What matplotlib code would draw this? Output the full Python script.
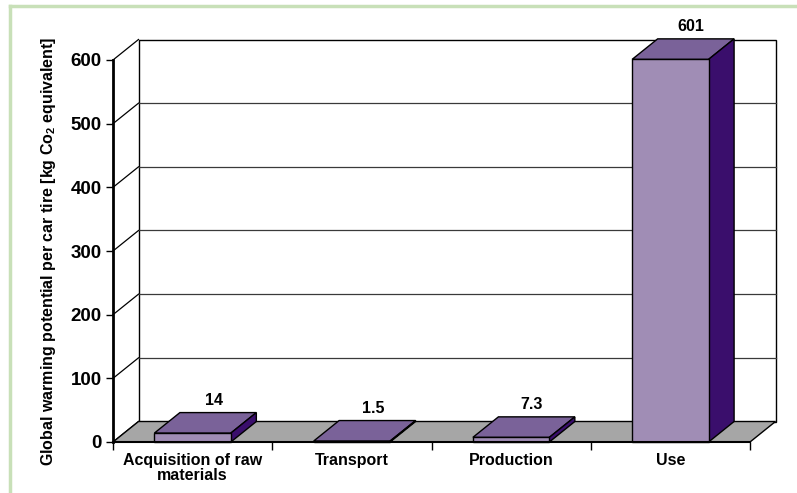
import matplotlib
matplotlib.use("Agg")
import matplotlib.pyplot as plt
from matplotlib.patches import Polygon, Rectangle
from matplotlib.lines import Line2D

# ---- data ----
categories = ["Acquisition of raw\nmaterials", "Transport", "Production", "Use"]
values = [14, 1.5, 7.3, 601]
value_labels = ["14", "1.5", "7.3", "601"]
yticks = [0, 100, 200, 300, 400, 500, 600]

# ---- style ----
plt.rcParams['font.family'] = ['Liberation Sans', 'DejaVu Sans']
plt.rcParams['font.weight'] = 'bold'
plt.rcParams['mathtext.fontset'] = 'custom'
plt.rcParams['mathtext.rm'] = 'Liberation Sans'
plt.rcParams['mathtext.bf'] = 'Liberation Sans:bold'

C_FRONT = '#A08DB5'
C_TOP = '#7A6299'
C_SIDE = '#3A0E6C'
C_FLOOR = '#A6A6A6'
C_GREEN = '#C8E0B8'

W, H = 797, 493
fig = plt.figure(figsize=(W / 100, H / 100), dpi=100)
fig.patch.set_facecolor('white')

# green frame (top and left edges visible only)
fig.lines.append(Line2D([10 / W, 1.0], [(H - 6) / H, (H - 6) / H],
                        transform=fig.transFigure, color=C_GREEN, lw=2.5))
fig.lines.append(Line2D([10 / W, 10 / W], [0.0, (H - 6) / H],
                        transform=fig.transFigure, color=C_GREEN, lw=2.5))

# front plane of the 3D box
x0px, x1px, y0px, y1px = 113, 750, 442, 60
ax = fig.add_axes([x0px / W, (H - y0px) / H, (x1px - x0px) / W, (y0px - y1px) / H])
n = len(categories)
ymax = yticks[-1]
ax.set_xlim(0, n)
ax.set_ylim(0, ymax)
ax.patch.set_visible(False)

# depth offset in data units
px_x = (x1px - x0px) / n
px_y = (y0px - y1px) / ymax
DX = 25.5 / px_x
DY = 20.5 / px_y

# back wall
ax.add_patch(Rectangle((DX, DY), n, ymax, facecolor='white', edgecolor='black',
                       linewidth=1.0, zorder=1, clip_on=False))
# gridlines on back wall and left side diagonals
for t in yticks:
    if 0 < t < ymax:
        ax.plot([DX, n + DX], [t + DY, t + DY], color='#3a3a3a', lw=0.9,
                zorder=1.5, clip_on=False)
    ax.plot([0, DX], [t, t + DY], color='black', lw=0.9, zorder=1.5, clip_on=False)

# floor
ax.add_patch(Polygon([(0, 0), (n, 0), (n + DX, DY), (DX, DY)], closed=True,
                     facecolor=C_FLOOR, edgecolor='black', linewidth=1.0,
                     zorder=2, clip_on=False))

# bars
bw = 0.48
xs = [i + 0.5 for i in range(n)]
ax.bar(xs, values, width=bw, color=C_FRONT, edgecolor='black', linewidth=1.0,
       zorder=4, clip_on=False)
for x, v, lab in zip(xs, values, value_labels):
    a, b = x - bw / 2, x + bw / 2
    ax.add_patch(Polygon([(a, v), (b, v), (b + DX, v + DY), (a + DX, v + DY)],
                         closed=True, facecolor=C_TOP, edgecolor='black',
                         linewidth=1.0, zorder=3, clip_on=False))
    ax.add_patch(Polygon([(b, 0), (b + DX, DY), (b + DX, v + DY), (b, v)],
                         closed=True, facecolor=C_SIDE, edgecolor='black',
                         linewidth=1.0, zorder=3, clip_on=False))
    ax.text(x + DX * 0.82, v + DY + 12 / px_y, lab, ha='center', va='center',
            fontsize=11.5, fontweight='bold', zorder=6, clip_on=False)

# axes spines / ticks
for s in ['top', 'right']:
    ax.spines[s].set_visible(False)
ax.spines['left'].set_linewidth(2.0)
ax.spines['bottom'].set_linewidth(1.5)
ax.spines['left'].set_zorder(5)
ax.spines['bottom'].set_zorder(5)

ax.set_yticks(yticks)
ax.set_yticklabels([str(t) for t in yticks], fontsize=13.5, fontweight='bold')
ax.tick_params(axis='y', direction='out', length=5, width=1.0, pad=3)

ax.set_xticks(range(n + 1))
ax.set_xticklabels([''] * (n + 1))
ax.tick_params(axis='x', which='major', direction='out', length=6, width=1.0)
ax.set_xticks(xs, minor=True)
ax.set_xticklabels(categories, minor=True, fontsize=11.5, fontweight='bold',
                   linespacing=1.0)
ax.tick_params(axis='x', which='minor', length=0, pad=8)

ax.set_ylabel(r"Global warming potential per car tire [kg Co$_\mathbf{2}$ equivalent]",
              fontsize=11.5, fontweight='bold', va='center')
ax.yaxis.set_label_coords((48.5 - x0px) / (x1px - x0px), 0.5)

fig.savefig('out.png', dpi=100, facecolor='white')
